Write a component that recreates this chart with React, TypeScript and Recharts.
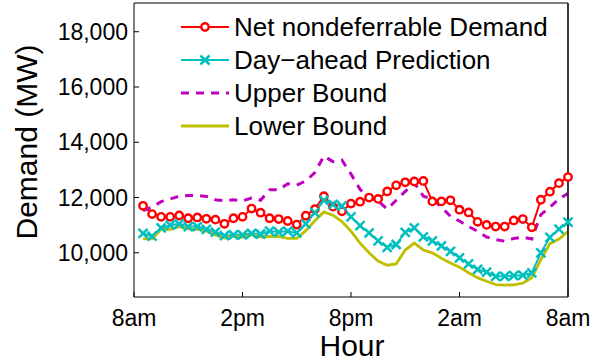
import React from 'react';
import { LineChart, Line, XAxis, YAxis, Legend, Label } from 'recharts';

// half-hour slots after 8am (1 = 8:30am ... 48 = 8am next day)
const slots = [
  1, 2, 3, 4, 5, 6, 7, 8, 9, 10, 11, 12, 13, 14, 15, 16, 17, 18, 19, 20, 21, 22, 23, 24,
  25, 26, 27, 28, 29, 30, 31, 32, 33, 34, 35, 36, 37, 38, 39, 40, 41, 42, 43, 44, 45, 46, 47, 48,
];

const netDemand = [
  11700, 11400, 11300, 11300, 11350, 11250, 11280, 11230, 11200, 11050, 11250, 11300,
  11600, 11450, 11250, 11220, 11150, 11020, 11340, 11580, 12050, 11670, 11500, 11780,
  11850, 12000, 11950, 12220, 12440, 12550, 12580, 12600, 11860, 11860, 11900, 11560,
  11460, 11120, 11010, 10950, 10950, 11170, 11220, 10920, 11920, 12210, 12520, 12740,
];

const dayAhead = [
  10700, 10600, 10900, 11000, 11050, 10950, 10950, 10850, 10750, 10620, 10650, 10650,
  10700, 10680, 10780, 10750, 10780, 10720, 11050, 11450, 11900, 11750, 11700, 11300,
  10980, 10720, 10430, 10200, 10300, 10740, 10900, 10580, 10430, 10250, 10050, 9820,
  9600, 9400, 9300, 9150, 9150, 9170, 9190, 9270, 10000, 10560, 10860, 11110,
];

const upperBound = [
  11530, 11650, 11850, 11950, 12050, 12070, 12070, 12040, 11920, 11880, 11920, 11880,
  11980, 11900, 12280, 12280, 12500, 12450, 12600, 12900, 13500, 13300, 13350, 12850,
  12300, 11950, 11880, 11580, 11900, 12220, 12530, 12050, 11950, 11650, 11320, 11150,
  10950, 10780, 10570, 10480, 10420, 10520, 10570, 10500, 11380, 11650, 11950, 12150,
];

const lowerBound = [
  10500, 10500, 10850, 10850, 10950, 10870, 10850, 10780, 10650, 10530, 10600, 10560,
  10650, 10570, 10590, 10590, 10520, 10520, 10800, 11160, 11480, 11360, 11130, 10780,
  10350, 10000, 9700, 9550, 9600, 10100, 10350, 10100, 10000, 9800, 9630, 9480,
  9280, 9100, 8970, 8850, 8830, 8840, 8900, 9100, 9750, 10330, 10500, 10770,
];

const hourTicks = [0, 12, 24, 36, 48];
const hourLabels = ['8am', '2pm', '8pm', '2am', '8am'];
const demandTicks = [10000, 12000, 14000, 16000, 18000];
const legendOrder = ['net', 'dayAhead', 'upper', 'lower'];

const data = slots.map((slot, i) => ({
  slot,
  net: netDemand[i],
  dayAhead: dayAhead[i],
  upper: upperBound[i],
  lower: lowerBound[i],
}));

const RED = '#ff0000';
const CYAN = '#00bfbf';
const MAGENTA = '#bf00bf';
const OLIVE = '#bfbf00';

const crossPath = (cx: number, cy: number, s: number) =>
  `M${cx - s},${cy - s}L${cx + s},${cy + s}M${cx - s},${cy + s}L${cx + s},${cy - s}`;

const CrossDot = (props: any) => {
  const { cx, cy } = props;
  if (cx == null || cy == null) return null;
  return <path d={crossPath(cx, cy, 4.5)} stroke={CYAN} strokeWidth={2.5} fill="none" />;
};

const renderLegend = (props: any) => {
  const items = [...(props.payload || [])].sort(
    (a: any, b: any) => legendOrder.indexOf(a.dataKey) - legendOrder.indexOf(b.dataKey),
  );
  return (
    <svg width={608} height={145} style={{ display: 'block' }}>
      {items.map((item: any, i: number) => {
        const cy = 27 + i * 33;
        const p = item.payload || {};
        return (
          <g key={item.value}>
            <line
              x1={181}
              x2={229}
              y1={cy}
              y2={cy}
              stroke={item.color}
              strokeWidth={p.strokeWidth || 2}
              strokeDasharray={p.strokeDasharray}
            />
            {item.dataKey === 'net' && (
              <circle cx={205} cy={cy} r={3.7} fill="#fff" stroke={RED} strokeWidth={2.4} />
            )}
            {item.dataKey === 'dayAhead' && (
              <path d={crossPath(205, cy, 4.5)} stroke={CYAN} strokeWidth={2.5} />
            )}
            <text x={234} y={cy + 9} fontSize={26} fill="#000">
              {item.value}
            </text>
          </g>
        );
      })}
    </svg>
  );
};

export default function App() {
  return (
    <div style={{ fontFamily: '"Liberation Sans", Arial, Helvetica, sans-serif' }}>
      <style>{'body{margin:0}'}</style>
      <LineChart
        width={608}
        height={364}
        data={data}
        margin={{ top: 2, right: 39, bottom: 0, left: 0 }}
      >
        <XAxis
          dataKey="slot"
          type="number"
          domain={[0, 48]}
          ticks={hourTicks}
          tickFormatter={(v: number) => hourLabels[hourTicks.indexOf(v)]}
          height={67}
          tickSize={-5}
          tickMargin={18}
          tick={{ fontSize: 23, fill: '#000' }}
          stroke="#000"
          interval={0}
        >
          <Label
            content={() => (
              <text x={352} y={356} textAnchor="middle" fontSize={30} fill="#000">
                Hour
              </text>
            )}
          />
        </XAxis>
        <XAxis
          xAxisId="top"
          dataKey="slot"
          type="number"
          orientation="top"
          domain={[0, 48]}
          ticks={hourTicks}
          height={1}
          tickSize={-5}
          tick={false}
          stroke="#000"
        />
        <YAxis
          type="number"
          domain={[8400, 19040]}
          ticks={demandTicks}
          width={134}
          tickSize={-5}
          tickMargin={11}
          tick={{ fontSize: 23, fill: '#000' }}
          tickFormatter={(v: number) => v.toLocaleString('en-US')}
          stroke="#000"
          interval={0}
          allowDataOverflow
        >
          <Label
            content={() => (
              <text
                x={37}
                y={142}
                transform="rotate(-90 37 142)"
                textAnchor="middle"
                fontSize={30}
                fill="#000"
              >
                Demand (MW)
              </text>
            )}
          />
        </YAxis>
        <YAxis
          yAxisId="right"
          orientation="right"
          type="number"
          domain={[8400, 19040]}
          ticks={demandTicks}
          width={1}
          tickSize={-5}
          tick={false}
          stroke="#222"
          strokeWidth={1.8}
          allowDataOverflow
        />
        <Line
          dataKey="net"
          name="Net nondeferrable Demand"
          stroke={RED}
          strokeWidth={2}
          dot={{ r: 3.7, fill: '#fff', stroke: RED, strokeWidth: 2.4 }}
          activeDot={false}
          isAnimationActive={false}
        />
        <Line
          dataKey="dayAhead"
          name="Day−ahead Prediction"
          stroke={CYAN}
          strokeWidth={2}
          dot={<CrossDot />}
          activeDot={false}
          isAnimationActive={false}
        />
        <Line
          dataKey="upper"
          name="Upper Bound"
          stroke={MAGENTA}
          strokeWidth={3}
          strokeDasharray="8 7"
          dot={false}
          activeDot={false}
          isAnimationActive={false}
        />
        <Line
          dataKey="lower"
          name="Lower Bound"
          stroke={OLIVE}
          strokeWidth={2.8}
          dot={false}
          activeDot={false}
          isAnimationActive={false}
        />
        <Legend
          layout="horizontal"
          verticalAlign="middle"
          align="center"
          content={renderLegend}
          wrapperStyle={{ left: 0, top: 0, width: 608, height: 145, margin: 0, padding: 0 }}
        />
      </LineChart>
    </div>
  );
}
